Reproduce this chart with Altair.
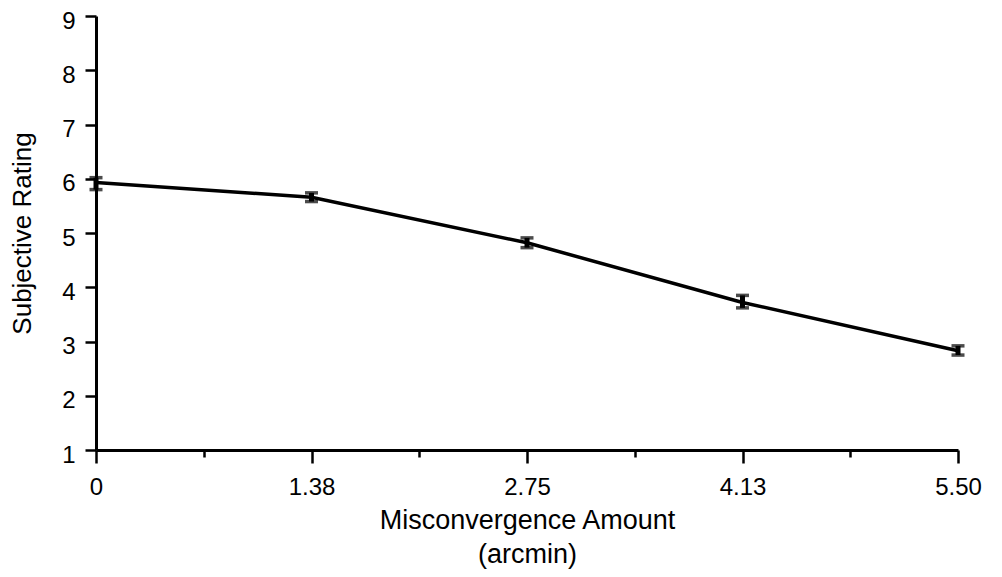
import altair as alt
import pandas as pd

# Data
x_vals = [0, 1.375, 2.75, 4.125, 5.5]
x_labels = ["0", "1.38", "2.75", "4.13", "5.50"]
ratings = [5.93, 5.66, 4.82, 3.72, 2.83]
err_lo = [5.80, 5.58, 4.73, 3.62, 2.75]
err_hi = [6.02, 5.74, 4.91, 3.85, 2.92]

x_minor = [0.6875, 2.0625, 3.4375, 4.8125]
y_ticks = [1 + 0.5 * i for i in range(17)]

df = pd.DataFrame({"x": x_vals, "rating": ratings, "lo": err_lo, "hi": err_hi})

FONT = "Liberation Sans"

x_all = sorted(x_vals + x_minor)
maj_list = "[" + ",".join(str(v) for v in x_vals) + "]"
lab_list = "[" + ",".join("'" + s + "'" for s in x_labels) + "]"
x_label_expr = (
    f"indexof({maj_list}, datum.value) >= 0 ? "
    f"{lab_list}[indexof({maj_list}, datum.value)] : ''"
)

x_scale = alt.Scale(domain=[0, 5.5], nice=False, zero=False)
y_scale = alt.Scale(domain=[1, 9], nice=False, zero=False)

x_axis = alt.Axis(
    values=x_all,
    labelExpr=x_label_expr,
    tickSize={"condition": {"test": f"indexof({maj_list}, datum.value) >= 0", "value": 13}, "value": 7},
    tickWidth=2.5,
    tickColor="black",
    domainColor="black",
    domainWidth=3,
    grid=False,
    labelFont=FONT,
    labelFontSize=24,
    labelColor="black",
    labelPadding=12,
    labelFlush=False,
    title=["Misconvergence Amount", "(arcmin)"],
    titleFont=FONT,
    titleFontSize=27,
    titleFontWeight="normal",
    titleColor="black",
    titleLineHeight=34,
    titleBaseline="alphabetic",
    titleY=78,
)

y_axis = alt.Axis(
    values=y_ticks,
    labelExpr="datum.value % 1 === 0 ? format(datum.value, 'd') : ''",
    tickSize={"condition": {"test": "datum.value % 1 === 0", "value": 11}, "value": 6},
    tickWidth=2.5,
    tickColor="black",
    domainColor="black",
    domainWidth=3,
    grid=False,
    labelFont=FONT,
    labelFontSize=24,
    labelColor="black",
    labelPadding=10,
    labelOffset=5,
    labelFlush=False,
    title="Subjective Rating",
    titleFont=FONT,
    titleFontSize=26,
    titleFontWeight="normal",
    titleColor="black",
    titleAngle=-90,
    titleBaseline="middle",
    titleX=-74,
    titleY=217,
)

base = alt.Chart(df)

line = base.mark_line(color="black", strokeWidth=3.5).encode(
    x=alt.X("x:Q", scale=x_scale, axis=x_axis),
    y=alt.Y("rating:Q", scale=y_scale, axis=y_axis),
)

bars = base.mark_rule(color="black", strokeWidth=5).encode(
    x="x:Q", y="lo:Q", y2="hi:Q"
)
cap_lo = base.mark_tick(color="black", thickness=3.5, size=13, orient="horizontal").encode(
    x="x:Q", y="lo:Q"
)
cap_hi = base.mark_tick(color="black", thickness=3.5, size=13, orient="horizontal").encode(
    x="x:Q", y="hi:Q"
)

chart = (
    alt.layer(line, bars, cap_lo, cap_hi)
    .properties(
        width=862,
        height=434,
        autosize=alt.AutoSizeParams(type="none"),
        padding={"left": 88, "top": 8, "right": 36, "bottom": 119},
        background="white",
    )
    .configure_view(stroke=None)
)

chart.save("out.html", embed_options={"renderer": "svg", "actions": False})
